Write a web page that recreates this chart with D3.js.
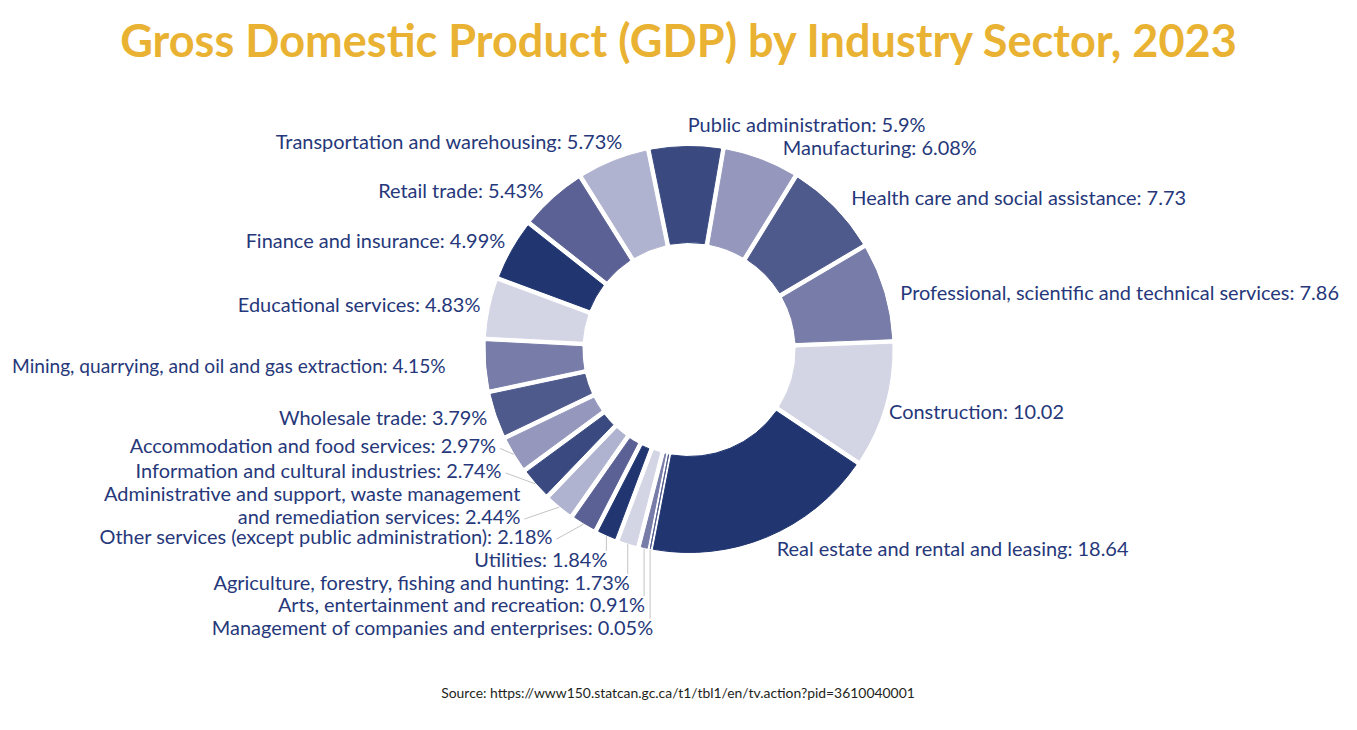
<!DOCTYPE html>
<html><head><meta charset="utf-8">
<script src="https://cdn.jsdelivr.net/npm/d3@7"></script>
<style>body{margin:0;background:#fff;} svg{display:block;}</style>
</head><body><svg id="chart" width="1357" height="730"></svg>
<script>
// ---------- DATA ----------
const categories = [
  "Real estate and rental and leasing",
  "Construction",
  "Professional, scientific and technical services",
  "Health care and social assistance",
  "Manufacturing",
  "Public administration",
  "Transportation and warehousing",
  "Retail trade",
  "Finance and insurance",
  "Educational services",
  "Mining, quarrying, and oil and gas extraction",
  "Wholesale trade",
  "Accommodation and food services",
  "Information and cultural industries",
  "Administrative and support, waste management\nand remediation services",
  "Other services (except public administration)",
  "Utilities",
  "Agriculture, forestry, fishing and hunting",
  "Arts, entertainment and recreation",
  "Management of companies and enterprises"
];
const values = [18.64, 10.02, 7.86, 7.73, 6.08, 5.9, 5.73, 5.43, 4.99, 4.83, 4.15, 3.79, 2.97, 2.74, 2.44, 2.18, 1.84, 1.73, 0.91, 0.05];
const valueLabels = ["18.64", "10.02", "7.86", "7.73", "6.08%", "5.9%", "5.73%", "5.43%", "4.99%", "4.83%", "4.15%", "3.79%", "2.97%", "2.74%", "2.44%", "2.18%", "1.84%", "1.73%", "0.91%", "0.05%"];
const titleText = "Gross Domestic Product (GDP) by Industry Sector, 2023";
const sourceText = "Source: https://www150.statcan.gc.ca/t1/tbl1/en/tv.action?pid=3610040001";

// ---------- STYLE / LAYOUT ----------
const palette = ["#213671", "#d3d5e5", "#777ca8", "#4f5a8c", "#9598bc", "#3a4a80", "#b0b3cf", "#5b6194"];
const textColor = "#26387a";
const titleColor = "#e9b233";
const fontFamily = "Lato, 'Open Sans', sans-serif";
const cx = 689, cy = 349.5, rOuter = 203, rInner = 107;
const startDeg = 190.9;
const labelR = 212, leaderR = 204;
const leaderThreshold = 3;
const leftMargin = 12;
// label offsets [dx, dy] relative to the computed anchor on the ring
const labelOffsets = [[6,4],[-4,5],[8,3],[11,-3],[19,-3],[2,-12.5],[12,-11],[-4,-1],[1,-5],[-1,-2],[-32,0],[-1,0],
  [-18,-8],[-34,-13],[-39,10],[-31,13],[1,24],[2,39],[1,56.5],[3,78]];

const svg = d3.select("#chart");

function fitSize(text, weight, baseSize, targetWidth) {
  const t = svg.append("text").attr("font-family", fontFamily).attr("font-weight", weight)
    .attr("font-size", baseSize).text(text);
  const w = t.node().getComputedTextLength();
  t.remove();
  return baseSize * targetWidth / w;
}
const labelFs = fitSize("Health care and social assistance: 7.73", 400, 20, 335);
const titleFs = fitSize(titleText, 700, 44, 1117);
const sourceFs = fitSize(sourceText, 400, 13, 474);

svg.append("text").attr("x", 678.5).attr("y", 57).attr("text-anchor", "middle")
  .attr("font-family", fontFamily).attr("font-weight", 700).attr("font-size", titleFs)
  .attr("fill", titleColor).text(titleText);

svg.append("text").attr("x", 678).attr("y", 698).attr("text-anchor", "middle")
  .attr("font-family", fontFamily).attr("font-size", sourceFs)
  .attr("fill", "#231f20").text(sourceText);

const data = categories.map((c, i) => ({cat: c, value: values[i], vlabel: valueLabels[i], i}));
const a0 = startDeg * Math.PI / 180;
const pie = d3.pie().sort(null).value(d => d.value).startAngle(a0).endAngle(a0 - 2 * Math.PI);
const arcs = pie(data);

const arc = d3.arc().innerRadius(rInner).outerRadius(rOuter).padAngle(0.055).padRadius(100);
const g = svg.append("g").attr("transform", `translate(${cx},${cy})`);

g.selectAll("path.slice").data(arcs).join("path").attr("class", "slice")
  .attr("d", arc)
  .attr("fill", d => palette[d.index % palette.length])
  .attr("stroke", d => palette[d.index % palette.length])
  .attr("stroke-width", 1);

function pt(angle, r) { return [r * Math.sin(angle), -r * Math.cos(angle)]; }

arcs.forEach(d => {
  const mid = (d.startAngle + d.endAngle) / 2;
  const small = d.value < leaderThreshold;
  const anchor = pt(mid, small ? leaderR : labelR);
  const off = labelOffsets[d.index];
  const lx = anchor[0] + off[0], ly = anchor[1] + off[1];
  const right = Math.sin(mid) > -0.1;
  const lines = (d.data.cat + ": " + d.data.vlabel).split("\n");
  const lineH = labelFs * 1.13;
  const t = g.append("text").attr("font-family", fontFamily).attr("font-size", labelFs)
    .attr("fill", textColor).attr("text-anchor", right ? "start" : "end");
  lines.forEach((ln, k) => {
    const ts = t.append("tspan").attr("x", lx)
      .attr("y", ly - (lines.length - 1 - k) * lineH)
      .attr("dy", "0.35em").text(ln);
    if (!right) {
      const w = ts.node().getComputedTextLength();
      const avail = (cx + lx) - leftMargin;
      if (w > avail) ts.attr("textLength", avail).attr("lengthAdjust", "spacingAndGlyphs");
    }
  });
  if (small) {
    let end;
    if (ly - anchor[1] > 20) end = [anchor[0], ly - 9];
    else end = [lx + 4, ly + 2];
    g.append("line").attr("x1", anchor[0]).attr("y1", anchor[1])
      .attr("x2", end[0]).attr("y2", end[1])
      .attr("stroke", "#c4c4c4").attr("stroke-width", 1);
  }
});
</script></body></html>
